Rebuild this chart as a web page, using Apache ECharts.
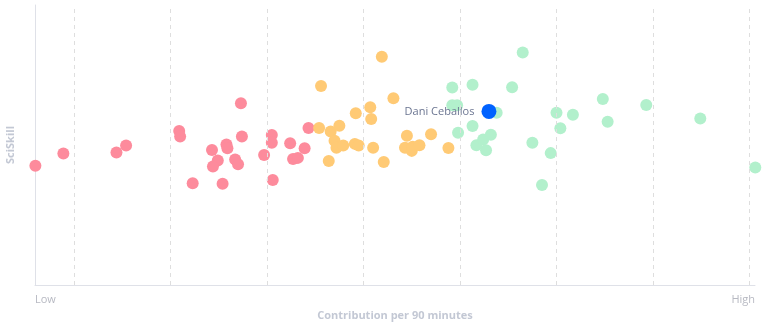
<!DOCTYPE html>
<html>
<head>
<meta charset="utf-8">
<script src="https://cdn.jsdelivr.net/npm/echarts@6/dist/echarts.min.js"></script>
<style>
html,body{margin:0;padding:0;background:#fff;}
#chart{width:768px;height:325px;}
</style>
</head>
<body>
<div id="chart"></div>
<script>
// Axis extent (contribution scale) and gridline positions
var xMin = -0.404, xMax = 7.057;
var gridTicks = [0, 1, 2, 3, 4, 5, 6, 7];
var xTickLabels = ['Low', 'High'];

// Players: [contribution, sciskill]
var lowGroup = [
  [-0.40, 42.6], [-0.11, 47.0], [0.44, 47.3], [0.54, 49.8], [1.09, 55.0], [1.10, 53.0],
  [1.23, 36.3], [1.43, 48.2], [1.49, 44.5], [1.44, 42.3], [1.58, 50.2], [1.59, 48.8],
  [1.54, 36.2], [1.73, 64.9], [1.74, 53.0], [1.67, 44.8], [1.70, 43.1], [1.97, 46.4],
  [2.05, 53.6], [2.05, 50.8], [2.06, 37.5], [2.24, 50.6], [2.27, 45.0], [2.32, 45.4],
  [2.39, 48.8], [2.43, 56.1]
];
var midGroup = [
  [2.54, 56.1], [2.56, 71.1], [2.66, 54.8], [2.75, 56.9], [2.70, 51.5], [2.72, 49.0],
  [2.79, 49.8], [2.64, 44.3], [2.91, 50.4], [2.95, 49.8], [2.92, 61.3], [3.07, 63.5],
  [3.08, 59.3], [3.10, 49.0], [3.19, 81.5], [3.21, 43.9], [3.31, 66.7], [3.45, 53.3],
  [3.43, 49.0], [3.50, 47.9], [3.51, 49.4], [3.58, 49.9], [3.70, 53.8], [3.88, 48.9]
];
var highGroup = [
  [3.92, 70.5], [4.13, 71.5], [3.92, 64.2], [3.97, 64.2], [4.38, 61.5], [3.98, 54.4],
  [4.13, 56.8], [4.17, 49.9], [4.24, 52.0], [4.32, 53.7], [4.27, 48.1], [4.54, 70.6],
  [4.65, 83.0], [5.00, 61.5], [5.17, 60.8], [5.04, 56.0], [4.75, 50.8], [4.94, 47.1],
  [4.85, 35.7], [5.48, 66.4], [5.53, 58.3], [5.93, 64.3], [6.49, 59.5], [7.06, 42.0]
];
var highlightName = 'Dani Ceballos';
var highlight = [[4.30, 62.0]];

var chart = echarts.init(document.getElementById('chart'), null, {renderer: 'canvas'});
var font = 'Open Sans';
chart.setOption({
  animation: false,
  grid: {left: 35, right: 13, top: 5, bottom: 40, containLabel: false, outerBoundsMode: 'none'},
  xAxis: {
    type: 'value', min: xMin, max: xMax,
    name: 'Contribution per 90 minutes', nameLocation: 'middle', nameGap: 21,
    nameTextStyle: {color: '#c3c8d4', fontFamily: font, fontWeight: 'bold', fontSize: 11},
    axisLine: {show: true, onZero: false, lineStyle: {color: '#dfe1e8', width: 1}},
    axisTick: {show: false},
    splitLine: {show: false},
    axisLabel: {
      customValues: [xMin, xMax],
      showMinLabel: true, showMaxLabel: true,
      alignMinLabel: 'left', alignMaxLabel: 'right',
      margin: 9, color: '#b7b9c2', fontFamily: font, fontSize: 11,
      formatter: function (v) { return Math.abs(v - xMin) < 1e-6 ? xTickLabels[0] : xTickLabels[1]; }
    }
  },
  yAxis: {
    type: 'value', min: 0, max: 100,
    name: 'SciSkill', nameLocation: 'middle', nameGap: 19,
    nameTextStyle: {color: '#c3c8d4', fontFamily: font, fontWeight: 'bold', fontSize: 11},
    axisLine: {show: true, onZero: false, lineStyle: {color: '#dfe1e8', width: 1}},
    axisTick: {show: false}, axisLabel: {show: false}, splitLine: {show: false}
  },
  series: [
    {
      type: 'scatter', data: [], z: 1, silent: true,
      markLine: {
        silent: true, symbol: ['none', 'none'], label: {show: false},
        lineStyle: {type: [4, 4], color: '#dedede', width: 1},
        data: gridTicks.map(function (t) { return {xAxis: t}; })
      }
    },
    {type: 'scatter', data: lowGroup, symbolSize: 12, clip: false, z: 2, itemStyle: {color: '#fd8b9c', opacity: 1}},
    {type: 'scatter', data: midGroup, symbolSize: 12, clip: false, z: 2, itemStyle: {color: '#ffca75', opacity: 1}},
    {type: 'scatter', data: highGroup, symbolSize: 12, clip: false, z: 2, itemStyle: {color: '#b2f0cc', opacity: 1}},
    {
      type: 'scatter', data: highlight, symbolSize: 15, clip: false, z: 3,
      itemStyle: {color: '#0062ff', opacity: 1},
      label: {show: true, position: 'left', distance: 7, formatter: highlightName,
        color: '#6b7591', fontFamily: font, fontSize: 11}
    }
  ]
});
</script>
</body>
</html>
